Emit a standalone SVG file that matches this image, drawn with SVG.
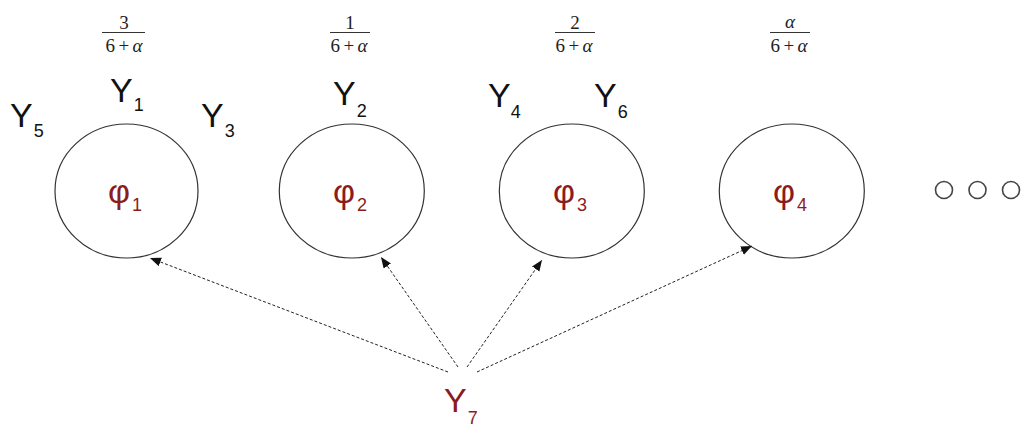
<svg xmlns="http://www.w3.org/2000/svg" width="1022" height="426" viewBox="0 0 1022 426">
  <style>
    .node { fill: #ffffff; stroke: #333333; stroke-width: 1.2; }
    .dot { fill: none; stroke: #444444; stroke-width: 1.6; }
    .y { font-family: "Liberation Sans", Arial, sans-serif; font-size: 34px; fill: #111111; }
    .sub { font-size: 18px; }
    .phi { font-family: "Liberation Sans", Arial, sans-serif; font-size: 34px; fill: #8c1c1c; }
    .phisub { font-size: 18px; }
    .red { fill: #8c1c1c; }
    .frac { font-family: "Liberation Serif", "Times New Roman", serif; font-size: 19px; fill: #222222; text-anchor: middle; }
    .bar { stroke: #333333; stroke-width: 1; }
    .link { fill: none; stroke: #222222; stroke-width: 1; stroke-dasharray: 3 2; marker-end: url(#tip); }
  </style>
  <defs>
    <marker id="tip" markerUnits="userSpaceOnUse" markerWidth="12" markerHeight="10" refX="11" refY="4.5" orient="auto">
      <path d="M0,0 L11,4.5 L0,9 z" fill="#111111"/>
    </marker>
  </defs>

  <rect width="1022" height="426" fill="#ffffff"/>

  <!-- weights above each factor -->
  <g id="weights">
    <text class="frac" x="124" y="29">3</text>
    <line class="bar" x1="102" y1="32.5" x2="145" y2="32.5"/>
    <text class="frac" x="124" y="52" textLength="37">6+<tspan font-style="italic">α</tspan></text>

    <text class="frac" x="350" y="29">1</text>
    <line class="bar" x1="330" y1="32.5" x2="370" y2="32.5"/>
    <text class="frac" x="349" y="52" textLength="37">6+<tspan font-style="italic">α</tspan></text>

    <text class="frac" x="575" y="29">2</text>
    <line class="bar" x1="555" y1="32.5" x2="595" y2="32.5"/>
    <text class="frac" x="574" y="52" textLength="37">6+<tspan font-style="italic">α</tspan></text>

    <text class="frac" x="790" y="28" font-style="italic">α</text>
    <line class="bar" x1="770" y1="32.5" x2="810" y2="32.5"/>
    <text class="frac" x="789" y="52" textLength="37">6+<tspan font-style="italic">α</tspan></text>
  </g>

  <!-- observed variables -->
  <g id="labels">
    <text class="y" x="10" y="127">Y<tspan class="sub" dx="1" dy="10">5</tspan></text>
    <text class="y" x="110" y="102">Y<tspan class="sub" dx="1" dy="9">1</tspan></text>
    <text class="y" x="201" y="127">Y<tspan class="sub" dx="1" dy="10">3</tspan></text>
    <text class="y" x="333" y="105">Y<tspan class="sub" dx="1" dy="12">2</tspan></text>
    <text class="y" x="488" y="107">Y<tspan class="sub" dx="0" dy="11">4</tspan></text>
    <text class="y" x="594" y="107">Y<tspan class="sub" dx="1" dy="11">6</tspan></text>
  </g>

  <g id="phi1">
    <ellipse class="node" cx="126.5" cy="191" rx="71.5" ry="67"/>
    <text class="phi" x="108" y="203">φ<tspan class="phisub" dx="2" dy="8">1</tspan></text>
  </g>
  <g id="phi2">
    <ellipse class="node" cx="351.8" cy="191" rx="72.5" ry="67"/>
    <text class="phi" x="333" y="203">φ<tspan class="phisub" dx="2" dy="8">2</tspan></text>
  </g>
  <g id="phi3">
    <ellipse class="node" cx="571.8" cy="191" rx="72.5" ry="67"/>
    <text class="phi" x="553" y="203">φ<tspan class="phisub" dx="2" dy="8">3</tspan></text>
  </g>
  <g id="phi4">
    <ellipse class="node" cx="791.8" cy="191" rx="72.5" ry="67"/>
    <text class="phi" x="773" y="203">φ<tspan class="phisub" dx="2" dy="8">4</tspan></text>
  </g>

  <g id="more">
    <circle class="dot" cx="944" cy="190" r="8.5"/>
    <circle class="dot" cx="977.5" cy="190" r="8.5"/>
    <circle class="dot" cx="1011" cy="190" r="8.5"/>
  </g>

  <g id="y7">
    <text class="y red" x="444" y="412">Y<tspan class="sub" dx="1" dy="12">7</tspan></text>
  </g>

  <g id="connectors">
    <line class="link" x1="448" y1="372" x2="150" y2="258"/>
    <line class="link" x1="458" y1="367" x2="381" y2="257"/>
    <line class="link" x1="467" y1="367" x2="542" y2="260"/>
    <line class="link" x1="477" y1="372" x2="752" y2="246"/>
  </g>
</svg>
